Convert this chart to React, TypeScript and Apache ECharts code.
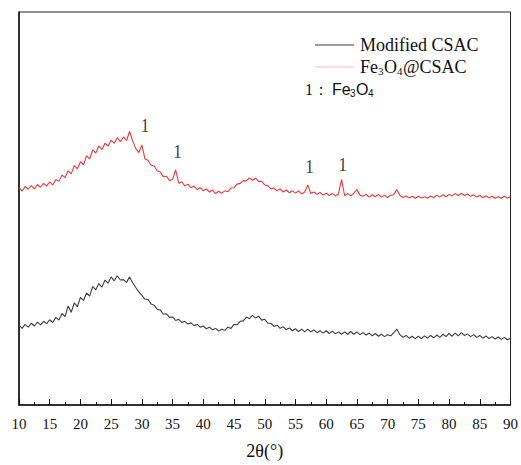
import React, { useEffect, useRef } from "react";
import * as echarts from "echarts";

const thetaStart = 10;
const thetaStep = 0.5;

const fe3o4CSAC = [
  55.3, 54.4, 55.6, 54.9, 55.8, 55.0, 56.1, 55.4, 56.4, 55.7,
  56.8, 56.0, 57.4, 56.9, 58.5, 57.9, 59.6, 58.8, 60.9, 60.1,
  61.9, 61.2, 63.4, 62.6, 64.9, 64.1, 65.9, 65.0, 66.6, 65.9,
  67.4, 66.6, 68.0, 67.0, 68.2, 67.3, 69.6, 67.2, 65.3, 64.2,
  66.2, 62.6, 62.3, 61.0, 60.8, 59.6, 59.3, 58.1, 58.2, 57.1,
  57.4, 59.8, 56.4, 56.8, 55.7, 56.2, 55.3, 55.7, 54.8, 55.3,
  54.5, 55.0, 54.2, 54.7, 53.8, 54.4, 53.9, 54.5, 54.3, 55.2,
  55.3, 56.2, 56.4, 57.1, 57.0, 57.8, 57.2, 57.7, 56.9, 56.9,
  56.0, 55.8, 55.0, 55.2, 54.5, 55.0, 54.2, 54.7, 54.0, 54.5,
  53.9, 54.5, 53.7, 54.2, 56.0, 53.8, 54.2, 53.6, 54.1, 53.4,
  53.9, 53.3, 53.8, 53.2, 53.7, 57.4, 53.3, 53.8, 53.2, 53.9,
  54.8, 53.4, 53.1, 53.6, 52.9, 53.5, 53.0, 53.6, 52.9, 53.4,
  52.8, 53.4, 53.5, 54.8, 53.3, 52.8, 53.2, 52.7, 53.1, 52.6,
  53.1, 52.7, 53.0, 52.6, 53.2, 52.8, 53.4, 52.9, 53.5, 53.0,
  53.6, 53.2, 53.8, 53.3, 53.9, 53.3, 53.7, 53.1, 53.5, 52.9,
  53.3, 52.8, 53.2, 52.7, 53.1, 52.6, 53.0, 52.6, 53.1, 52.7,
  53.0,
];

const modifiedCSAC = [
  20.3, 19.5, 20.5, 19.8, 20.8, 20.1, 21.1, 20.4, 21.3, 20.7,
  21.7, 21.0, 22.3, 21.6, 23.3, 22.5, 25.2, 23.6, 26.0, 25.0,
  27.4, 26.6, 28.5, 27.7, 30.2, 29.3, 30.9, 30.0, 31.8, 31.0,
  32.6, 31.6, 32.9, 31.8, 31.9, 31.2, 32.6, 31.1, 29.9, 28.8,
  27.9, 26.9, 26.9, 25.7, 25.4, 24.3, 24.2, 23.1, 23.2, 22.3,
  22.4, 21.5, 21.8, 21.0, 21.3, 20.6, 20.9, 20.2, 20.5, 19.8,
  20.1, 19.4, 19.8, 19.1, 19.5, 18.8, 19.3, 19.0, 19.8, 19.5,
  20.5, 20.4, 21.3, 21.4, 22.3, 22.0, 22.8, 22.1, 22.6, 21.6,
  21.8, 20.8, 20.8, 20.0, 20.3, 19.5, 19.9, 19.2, 19.6, 18.9,
  19.4, 18.7, 19.3, 18.6, 19.3, 18.6, 19.1, 18.4, 18.9, 18.3,
  18.9, 18.2, 18.8, 18.1, 18.6, 18.0, 18.6, 18.0, 18.7, 18.0,
  18.6, 17.9, 18.4, 17.8, 18.3, 17.6, 18.2, 17.5, 18.0, 17.4,
  17.9, 17.6, 18.4, 19.3, 17.9, 17.2, 17.7, 17.0, 17.5, 16.9,
  17.5, 16.9, 17.6, 17.0, 17.7, 17.1, 17.8, 17.2, 18.0, 17.4,
  18.2, 17.5, 18.3, 17.6, 18.4, 17.7, 18.1, 17.4, 17.9, 17.2,
  17.7, 17.0, 17.6, 16.9, 17.4, 16.8, 17.3, 16.7, 17.2, 16.6,
  17.0,
];

const peakThetas = [30.5, 35.8, 57.3, 62.7];
const peakLabelHeights = [71, 64.25, 60.5, 61];

const xTicks = { min: 10, max: 90, interval: 5 };

const serif = "Liberation Serif";

export default function App() {
  const ref = useRef<HTMLDivElement>(null);
  useEffect(() => {
    if (!ref.current) return;
    const chart = echarts.init(ref.current, undefined, { renderer: "svg" });
    const toPairs = (arr: number[]) =>
      arr.map((v, i) => [thetaStart + thetaStep * i, v]);
    const txt = (x: number, y: number, s: string, size: number, sansFont = false) => ({
      type: "text",
      x,
      y,
      style: {
        text: s,
        font: sansFont
          ? `${size}px 'Liberation Sans', Arial, sans-serif`
          : `${size}px 'Liberation Serif', 'Times New Roman', serif`,
        fill: "#111",
        verticalAlign: "middle",
      },
    });
    chart.setOption({
      animation: false,
      backgroundColor: "#fff",
      textStyle: { fontFamily: serif },
      grid: {
        left: 19,
        right: 6,
        top: 12,
        bottom: 53,
        show: true,
        borderColor: "#222",
        borderWidth: 1,
      },
      xAxis: {
        type: "value",
        min: xTicks.min,
        max: xTicks.max,
        interval: xTicks.interval,
        name: "2θ(°)",
        nameLocation: "middle",
        nameGap: 37,
        nameTextStyle: { fontFamily: serif, fontSize: 18, color: "#111" },
        axisLine: { show: true, lineStyle: { color: "#111", width: 1.5 } },
        axisTick: { show: true, inside: true, length: 6, lineStyle: { color: "#111" } },
        minorTick: { show: true, splitNumber: 2, length: 3, lineStyle: { color: "#111" } },
        axisLabel: { fontFamily: serif, fontSize: 15, color: "#111", margin: 11 },
        splitLine: { show: false },
      },
      yAxis: {
        type: "value",
        min: 0,
        max: 100,
        axisLine: { show: true, lineStyle: { color: "#111", width: 1.5 } },
        axisTick: { show: false },
        axisLabel: { show: false },
        splitLine: { show: false },
      },
      series: [
        {
          name: "Modified CSAC",
          type: "line",
          data: toPairs(modifiedCSAC),
          showSymbol: false,
          lineStyle: { color: "#3d3d3d", width: 1.1 },
        },
        {
          name: "Fe3O4@CSAC",
          type: "line",
          data: toPairs(fe3o4CSAC),
          showSymbol: false,
          lineStyle: { color: "#f03838", width: 1.1 },
        },
        {
          name: "peaks",
          type: "scatter",
          symbolSize: 1,
          itemStyle: { color: "rgba(0,0,0,0)" },
          data: peakThetas.map((t, i) => [t, peakLabelHeights[i]]),
          label: {
            show: true,
            position: "inside",
            formatter: "1",
            fontFamily: serif,
            fontSize: 18,
            color: "#111",
          },
        },
      ],
      graphic: [
        {
          type: "line",
          shape: { x1: 315, y1: 45, x2: 354, y2: 45 },
          style: { stroke: "#3d3d3d", lineWidth: 1 },
        },
        txt(360, 45, "Modified CSAC", 18),
        {
          type: "line",
          shape: { x1: 315, y1: 67, x2: 354, y2: 67 },
          style: { stroke: "#ffb8c4", lineWidth: 1 },
        },
        txt(360, 67, "Fe", 18),
        txt(378, 71, "3", 11),
        txt(384, 67, "O", 18),
        txt(397, 71, "4", 11),
        txt(403, 67, "@CSAC", 18),
        txt(305, 89, "1：", 16),
        txt(332, 89, "Fe", 16, true),
        txt(350, 93, "3", 10, true),
        txt(356, 89, "O", 16, true),
        txt(368, 93, "4", 10, true),
      ],
    });
    return () => chart.dispose();
  }, []);
  return <div ref={ref} style={{ width: 521, height: 465, position: "absolute", left: 0, top: 0 }} />;
}
